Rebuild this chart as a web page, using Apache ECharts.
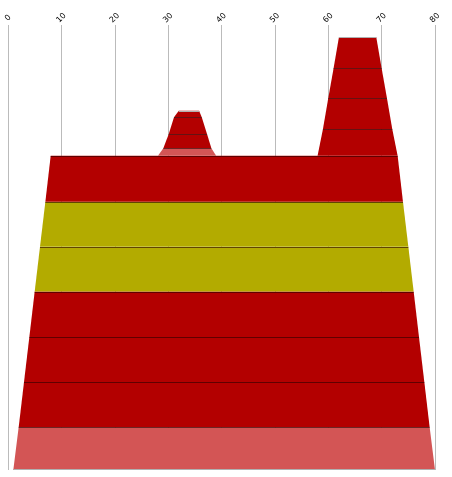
<!DOCTYPE html>
<html>
<head>
<meta charset="utf-8">
<script src="https://cdn.jsdelivr.net/npm/echarts@6/dist/echarts.min.js"></script>
<style>
  html, body { margin: 0; padding: 0; background: #fff; }
  #chart { width: 452px; height: 477px; }
</style>
</head>
<body>
<div id="chart"></div>
<script>
// x tick values along the top
const xTicks = [0, 10, 20, 30, 40, 50, 60, 70, 80];

// main body: level boundaries (bottom -> top) and edge positions at each level
const bodyLevels = [0, 0.95, 1.96, 2.96, 3.97, 4.97, 5.97, 6.99];
const bodyLeft   = [1, 2, 3, 4, 5, 6, 7, 8];
const bodyRight  = [80, 79, 78, 77, 76, 75, 74, 73];
const bodyColors = ['light', 'red', 'red', 'red', 'olive', 'olive', 'red'];

// small bump on the body
const bumpLevels = [6.99, 7.16, 7.47, 7.85, 7.99];
const bumpLeft   = [28.1, 29.1, 30.1, 31.1, 32.0];
const bumpRight  = [39.0, 38.1, 37.3, 36.3, 35.8];
const bumpColors = ['light', 'red', 'red', 'red'];

// tower on the right
const towerLevels = [6.99, 7.58, 8.27, 8.94, 9.63];
const towerLeft   = [58, 59, 60, 61, 62];
const towerRight  = [73, 72, 71, 70, 69];
const towerColors = ['red', 'red', 'red', 'red'];

const palette = { red: '#b30000', light: '#d35555', olive: '#b3ab00' };

// one trapezoid per row: [yBottom, yTop, leftBottom, rightBottom, leftTop, rightTop, colour, shape, isTop, isBottom]
function rows(shape, levels, left, right, colors) {
  const out = [];
  for (let i = 0; i < colors.length; i++) {
    out.push([levels[i], levels[i + 1], left[i], right[i], left[i + 1], right[i + 1],
      colors[i], shape, i === colors.length - 1 ? 1 : 0, i === 0 ? 1 : 0]);
  }
  return out;
}

const data = [].concat(
  rows('body', bodyLevels, bodyLeft, bodyRight, bodyColors),
  rows('bump', bumpLevels, bumpLeft, bumpRight, bumpColors),
  rows('tower', towerLevels, towerLeft, towerRight, towerColors)
);

const crisp = v => Math.round(v) + 0.5;

function renderItem(params, api) {
  const y0 = api.value(0), y1 = api.value(1);
  const lb = api.coord([api.value(2), y0]);
  const rb = api.coord([api.value(3), y0]);
  const lt = api.coord([api.value(4), y1]);
  const rt = api.coord([api.value(5), y1]);
  const d = data[params.dataIndex];
  const shape = d[7], isTop = d[8], isBottom = d[9];
  const children = [{
    type: 'polygon',
    z2: 1,
    shape: { points: [lb, rb, rt, lt] },
    style: { fill: palette[d[6]] }
  }];
  // top edge: grey cap on the free tops of bump/tower, dark divider elsewhere
  const capGrey = isTop && shape !== 'body';
  const ty = crisp(lt[1]);
  children.push({
    type: 'line',
    z2: capGrey ? 20 : 10,
    shape: { x1: lt[0], y1: ty, x2: rt[0], y2: ty },
    style: { stroke: capGrey ? '#b0b0b0' : 'rgba(40,0,0,0.6)', lineWidth: 1 }
  });
  if (isBottom && shape === 'body') {
    const by = crisp(lb[1]) - 1;
    children.push({
      type: 'line',
      z2: 10,
      shape: { x1: lb[0], y1: by, x2: rb[0], y2: by },
      style: { stroke: '#b0b0b0', lineWidth: 1 }
    });
  }
  return { type: 'group', children: children };
}

const chart = echarts.init(document.getElementById('chart'), null, { renderer: 'canvas' });
chart.setOption({
  animation: false,
  grid: { left: 8, right: 17, top: 25, bottom: 7, containLabel: false },
  xAxis: {
    type: 'value',
    position: 'top',
    min: xTicks[0],
    max: xTicks[xTicks.length - 1],
    interval: 10,
    axisLine: { show: false },
    axisTick: { show: false },
    axisLabel: {
      rotate: 45,
      margin: 7,
      fontSize: 8,
      fontFamily: 'DejaVu Sans',
      color: '#000',
      align: 'center',
      verticalAlign: 'middle',
      showMinLabel: true,
      showMaxLabel: true
    },
    splitLine: { show: true, lineStyle: { color: '#bbbbbb', width: 1 } }
  },
  yAxis: {
    type: 'value',
    min: 0,
    max: 9.9,
    show: false,
    splitLine: { show: false }
  },
  series: [{
    type: 'custom',
    renderItem: renderItem,
    data: data,
    encode: { x: [2, 3, 4, 5], y: [0, 1] }
  }]
});
</script>
</body>
</html>
